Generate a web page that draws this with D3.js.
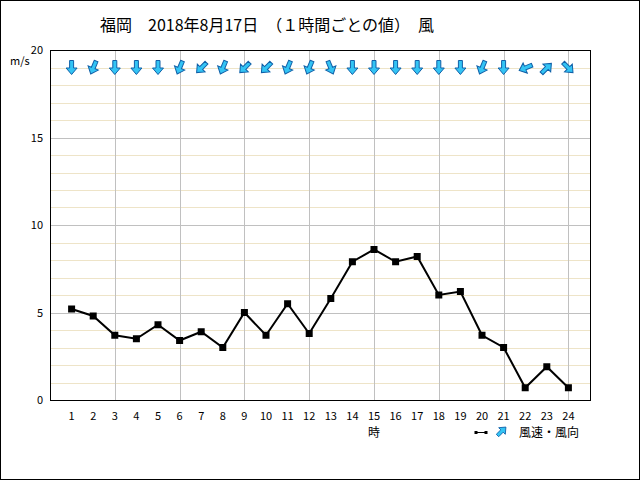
<!DOCTYPE html>
<html>
<head>
<meta charset="utf-8">
<script src="https://cdn.jsdelivr.net/npm/d3@7"></script>
<style>
  body { margin: 0; background: #fff; }
  text { font-family: "Noto Sans CJK JP", "DejaVu Sans", sans-serif; }
</style>
</head>
<body>
<div id="chart"></div>
<script>
// hourly values, Fukuoka 2018-08-17
const hours = d3.range(1, 25);
const speeds = [5.2, 4.8, 3.7, 3.5, 4.3, 3.4, 3.9, 3.0, 5.0, 3.7, 5.5, 3.8,
                5.8, 7.9, 8.6, 7.9, 8.2, 6.0, 6.2, 3.7, 3.0, 0.7, 1.9, 0.7];
// wind comes FROM this direction
const windDirs = ["北", "北北東", "北", "北", "北", "北北東", "北東", "北北東", "北東", "北東", "北北東", "北北東",
                  "北北西", "北", "北", "北", "北", "北", "北", "北北東", "北", "東北東", "南西", "北西"];
const compass16 = ["北", "北北東", "北東", "東北東", "東", "東南東", "南東", "南南東",
                   "南", "南南西", "南西", "西南西", "西", "西北西", "北西", "北北西"];
const yTicks = [0, 5, 10, 15, 20];
const titleText = "福岡　2018年8月17日　（１時間ごとの値）　風";

const W = 640, H = 480;
const mLeft = 50, mRight = 590, mTop = 50, mBottom = 400;

const svg = d3.select("#chart").append("svg")
    .attr("width", W).attr("height", H);

svg.append("rect").attr("x", 0.5).attr("y", 0.5)
    .attr("width", W - 1).attr("height", H - 1)
    .attr("fill", "#fff").attr("stroke", "#000");

const x = d3.scaleLinear().domain([0, 25]).range([mLeft, mRight]);
const y = d3.scaleLinear().domain([0, 20]).range([mBottom, mTop]);

// horizontal grid - minor every 1, major every 5
d3.range(1, 20).forEach(v => {
    svg.append("line")
        .attr("x1", mLeft).attr("x2", mRight)
        .attr("y1", Math.round(y(v)) + 0.5).attr("y2", Math.round(y(v)) + 0.5)
        .attr("stroke", v % 5 === 0 ? "#c0c0c0" : "#eee4c8")
        .attr("stroke-width", 1);
});
// vertical grid every 3 hours
hours.filter(h => h % 3 === 0).forEach(h => {
    svg.append("line")
        .attr("x1", Math.round(x(h)) + 0.5).attr("x2", Math.round(x(h)) + 0.5)
        .attr("y1", mTop).attr("y2", mBottom)
        .attr("stroke", "#c0c0c0");
});

// frame
svg.append("rect").attr("x", mLeft + 0.5).attr("y", mTop + 0.5)
    .attr("width", mRight - mLeft).attr("height", mBottom - mTop)
    .attr("fill", "none").attr("stroke", "#000");

// y labels
svg.selectAll(".ylab").data(yTicks).enter().append("text")
    .attr("x", 43).attr("y", d => y(d) + 4)
    .attr("text-anchor", "end").attr("font-size", 11)
    .text(d => d);
svg.append("text").attr("x", 10).attr("y", 65)
    .attr("font-size", 11).text("m/s");

// x labels
svg.selectAll(".xlab").data(hours).enter().append("text")
    .attr("x", d => x(d)).attr("y", 420)
    .attr("text-anchor", "middle").attr("font-size", 11)
    .text(d => d);
svg.append("text").attr("x", x(15)).attr("y", 437)
    .attr("text-anchor", "middle").attr("font-size", 12).text("時");

// title
svg.append("text").attr("x", 100).attr("y", 31)
    .attr("font-size", 16).text(titleText);

// speed line
const line = d3.line().x((d, i) => x(hours[i])).y(d => y(d));
svg.append("path").datum(speeds)
    .attr("d", line)
    .attr("fill", "none").attr("stroke", "#000").attr("stroke-width", 2);
svg.selectAll(".pt").data(speeds).enter().append("rect")
    .attr("x", (d, i) => x(hours[i]) - 3.5).attr("y", d => y(d) - 3.5)
    .attr("width", 7).attr("height", 7).attr("fill", "#000");

// wind arrows (arrow path pointing down, centered at 0,0)
const arrowPath = "M-2,-7.5 L2,-7.5 L2,0 L5.5,0 L0,6.5 L-5.5,0 L-2,0 Z";
function pointAngle(dir) {
    // wind from dir -> arrow points opposite; down arrow = 0 rotation for 北
    return compass16.indexOf(dir) * 22.5;
}
svg.selectAll(".arr").data(windDirs).enter().append("path")
    .attr("d", arrowPath)
    .attr("transform", (d, i) => `translate(${x(hours[i])},68) rotate(${pointAngle(d)})`)
    .attr("fill", "#33c4f4").attr("stroke", "#1060a8").attr("stroke-width", 1);

// legend
svg.append("line").attr("x1", 476).attr("x2", 486).attr("y1", 432.5).attr("y2", 432.5)
    .attr("stroke", "#000").attr("stroke-width", 1);
[476, 486].forEach(px => svg.append("rect")
    .attr("x", px - 1.5).attr("y", 431).attr("width", 3).attr("height", 3).attr("fill", "#000"));
svg.append("path").attr("d", arrowPath)
    .attr("transform", "translate(502,431) rotate(225) scale(0.85)")
    .attr("fill", "#33c4f4").attr("stroke", "#1060a8");
svg.append("text").attr("x", 519).attr("y", 437)
    .attr("font-size", 12).text("風速・風向");
</script>
</body>
</html>
